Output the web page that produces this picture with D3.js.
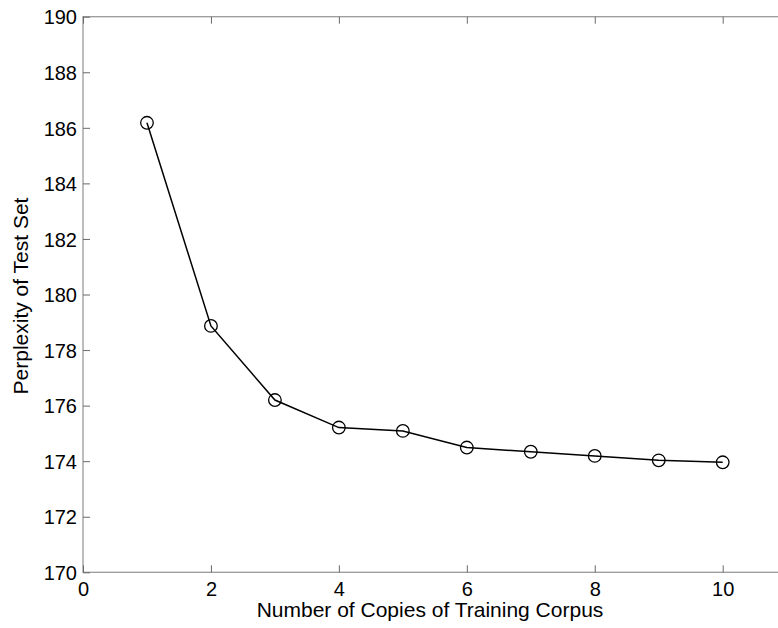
<!DOCTYPE html>
<html>
<head>
<meta charset="utf-8">
<script src="https://cdn.jsdelivr.net/npm/d3@7/dist/d3.min.js"></script>
<style>
html,body{margin:0;padding:0;background:#fff;overflow:hidden;}
svg{display:block;}
text{font-family:"Liberation Sans",Arial,Helvetica,sans-serif;fill:#000;}
</style>
</head>
<body>
<svg id="chart" width="778" height="628"></svg>
<script>
const copies = [1, 2, 3, 4, 5, 6, 7, 8, 9, 10];
const perplexity = [186.18, 178.87, 176.20, 175.21, 175.09, 174.49, 174.34, 174.19, 174.03, 173.96];
const xTicks = [0, 2, 4, 6, 8, 10];
const yTicks = [170, 172, 174, 176, 178, 180, 182, 184, 186, 188, 190];
const xTitle = "Number of Copies of Training Corpus";
const yTitle = "Perplexity of Test Set";

(function () {
const svg = d3.select("#chart");
const mLeft = 83, mTop = 16.7, mBottom = 572.3;
const unit = 63.97;
const x = d3.scaleLinear().domain([0, 12]).range([mLeft, mLeft + 12 * unit]);
const y = d3.scaleLinear().domain([170, 190]).range([mBottom, mTop]);
const mRight = x(12);
const axisColor = "#9a9a9a";
const tickLen = 7;

const g = svg.append("g");

g.append("rect")
  .attr("x", mLeft).attr("y", mTop)
  .attr("width", mRight - mLeft).attr("height", mBottom - mTop)
  .attr("fill", "none").attr("stroke", axisColor).attr("stroke-width", 1.3);

const xb = g.append("g").attr("transform", `translate(0,${mBottom})`)
  .call(d3.axisBottom(x).tickValues(xTicks).tickSizeInner(-tickLen).tickSizeOuter(0).tickPadding(9.5));
const xt = g.append("g").attr("transform", `translate(0,${mTop})`)
  .call(d3.axisTop(x).tickValues(xTicks).tickSizeInner(-tickLen).tickSizeOuter(0).tickFormat(""));
const yl = g.append("g").attr("transform", `translate(${mLeft},0)`)
  .call(d3.axisLeft(y).tickValues(yTicks).tickSizeInner(-tickLen).tickSizeOuter(0).tickPadding(6));
const yr = g.append("g").attr("transform", `translate(${mRight},0)`)
  .call(d3.axisRight(y).tickValues(yTicks).tickSizeInner(-tickLen).tickSizeOuter(0).tickFormat(""));

[xb, xt, yl, yr].forEach(a => {
  a.select(".domain").remove();
  a.selectAll(".tick line").attr("stroke", "#6a6a6a").attr("stroke-width", 1);
  a.selectAll(".tick text")
    .attr("font-family", '"Liberation Sans",Arial,Helvetica,sans-serif')
    .attr("font-size", 20).attr("fill", "#000");
});
yl.selectAll(".tick text").attr("dy", "0.36em");
xb.selectAll(".tick text").attr("dy", "0.72em");

const data = copies.map((c, i) => ({x: c, y: perplexity[i]}));
g.append("path").datum(data)
  .attr("fill", "none").attr("stroke", "#000").attr("stroke-width", 1.5)
  .attr("d", d3.line().x(d => x(d.x)).y(d => y(d.y)));

g.selectAll("circle.pt").data(data).enter().append("circle")
  .attr("class", "pt")
  .attr("cx", d => x(d.x)).attr("cy", d => y(d.y)).attr("r", 6.3)
  .attr("fill", "none").attr("stroke", "#000").attr("stroke-width", 1.3);

svg.append("text")
  .attr("x", 430).attr("y", 617)
  .attr("text-anchor", "middle").attr("font-size", 21)
  .text(xTitle);
svg.append("text")
  .attr("transform", "translate(28,296) rotate(-90)")
  .attr("text-anchor", "middle").attr("font-size", 21)
  .text(yTitle);
})();
</script>
</body>
</html>
